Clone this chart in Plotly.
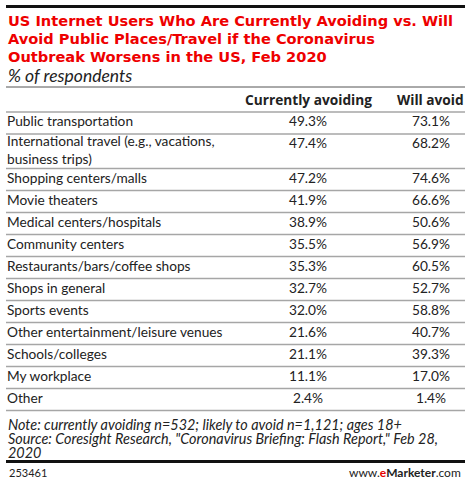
import plotly.graph_objects as go

# datos de la tabla
categorias = [
    "Public transportation",
    "International travel (e.g., vacations,<br>business trips)",
    "Shopping centers/malls",
    "Movie theaters",
    "Medical centers/hospitals",
    "Community centers",
    "Restaurants/bars/coffee shops",
    "Shops in general",
    "Sports events",
    "Other entertainment/leisure venues",
    "Schools/colleges",
    "My workplace",
    "Other",
]
actualmente = [49.3, 47.4, 47.2, 41.9, 38.9, 35.5, 35.3, 32.7, 32.0, 21.6, 21.1, 11.1, 2.4]
evitara = [73.1, 68.2, 74.6, 66.6, 50.6, 56.9, 60.5, 52.7, 58.8, 40.7, 39.3, 17.0, 1.4]
encabezados = ["Currently avoiding", "Will avoid"]

titulo = ["US Internet Users Who Are Currently Avoiding vs. Will",
          "Avoid Public Places/Travel if the Coronavirus",
          "Outbreak Worsens in the US, Feb 2020"]
subtitulo = "% of respondents"
nota = ["Note: currently avoiding n=532; likely to avoid n=1,121; ages 18+",
        "Source: Coresight Research, \"Coronavirus Briefing: Flash Report,\" Feb 28,",
        "2020"]

W, H = 470, 484
FUENTE = "Lato"
TITULO_FUENTE = "DejaVu Sans"
GRIS = "#a6a6a6"
TEXTO = "#222"

# posiciones de filas (px desde arriba)
y_inicio = 112
alto_fila = 22
alto_linea = 12.5
y_lineas = [y_inicio]
y_etiqueta = []
y_valor = []
y = y_inicio
for c in categorias:
    n = c.count("<br>") + 1
    h = alto_fila + alto_linea * (n - 1)
    y_etiqueta.append(y + h / 2)
    y_valor.append(y + alto_fila / 2)
    y += h
    y_lineas.append(y)

fig = go.Figure()

# regla superior gruesa
fig.add_trace(go.Scatter(
    x=[6, 465], y=[6.5, 6.5], mode="lines",
    line=dict(color="#111", width=3), hoverinfo="skip"))

fig.add_trace(go.Scatter(
    x=[7] * len(categorias), y=y_etiqueta, text=categorias,
    mode="text", textposition="middle right",
    textfont=dict(family=FUENTE, size=13.7, color=TEXTO),
    hoverinfo="skip"))
fig.add_trace(go.Scatter(
    x=[308] * len(actualmente), y=y_valor, text=[f"{v:.1f}%" for v in actualmente],
    mode="text", textposition="middle center",
    textfont=dict(family=FUENTE, size=13.7, color=TEXTO),
    hoverinfo="skip"))
fig.add_trace(go.Scatter(
    x=[431] * len(evitara), y=y_valor, text=[f"{v:.1f}%" for v in evitara],
    mode="text", textposition="middle center",
    textfont=dict(family=FUENTE, size=13.7, color=TEXTO),
    hoverinfo="skip"))

# encabezados
for xc, txt in zip([308, 430], encabezados):
    fig.add_annotation(x=xc, y=99, text=f"<b>{txt}</b>", showarrow=False,
                       xanchor="center", yanchor="middle",
                       font=dict(family="Open Sans", size=13.7, color=TEXTO))

# titulo y subtitulo
for i, linea in enumerate(titulo):
    fig.add_annotation(x=6, y=20 + 18.2 * i, text=f"<b>{linea}</b>", showarrow=False,
                       xanchor="left", yanchor="middle",
                       font=dict(family=TITULO_FUENTE, size=14.6, color="#ee0000"))
fig.add_annotation(x=6, y=75, text=f"<i>{subtitulo}</i>", showarrow=False,
                   xanchor="left", yanchor="middle",
                   font=dict(family=FUENTE, size=17.5, color=TEXTO))

# nota y fuente
for i, linea in enumerate(nota):
    fig.add_annotation(x=6, y=424 + 14.3 * i, text=f"<i>{linea}</i>", showarrow=False,
                       xanchor="left", yanchor="middle",
                       font=dict(family=FUENTE, size=14.4, color=TEXTO))
fig.add_annotation(x=7, y=472, text="253461", showarrow=False,
                   xanchor="left", yanchor="middle",
                   font=dict(family=FUENTE, size=11, color=TEXTO))
fig.add_annotation(x=463, y=472,
                   text="www.<b><span style='color:#e60000'>e</span>Marketer</b>.com",
                   showarrow=False, xanchor="right", yanchor="middle",
                   font=dict(family=FUENTE, size=12, color=TEXTO))

# lineas (en pixeles desde arriba)
def linea_h(yp, color, ancho):
    return dict(type="line", x0=6, x1=465, y0=yp, y1=yp,
                line=dict(color=color, width=ancho), layer="above")

lineas = [dict(type="rect", x0=6, x1=465, y0=460, y1=463, fillcolor="#111",
               line=dict(width=0), layer="above"),
          linea_h(87, "#555", 1)]
for yl in y_lineas:
    lineas.append(linea_h(yl, GRIS, 1.5))

fig.update_layout(
    width=W, height=H, margin=dict(l=0, r=0, t=0, b=0, pad=0),
    paper_bgcolor="white", plot_bgcolor="white",
    showlegend=False, shapes=lineas,
    xaxis=dict(range=[0, W], visible=False, fixedrange=True),
    yaxis=dict(range=[H, 0], visible=False, fixedrange=True),
)

fig.write_html("out.html", config={"displayModeBar": False},
               post_script="document.body.style.margin='0';"
                           "document.body.style.overflow='hidden';")
